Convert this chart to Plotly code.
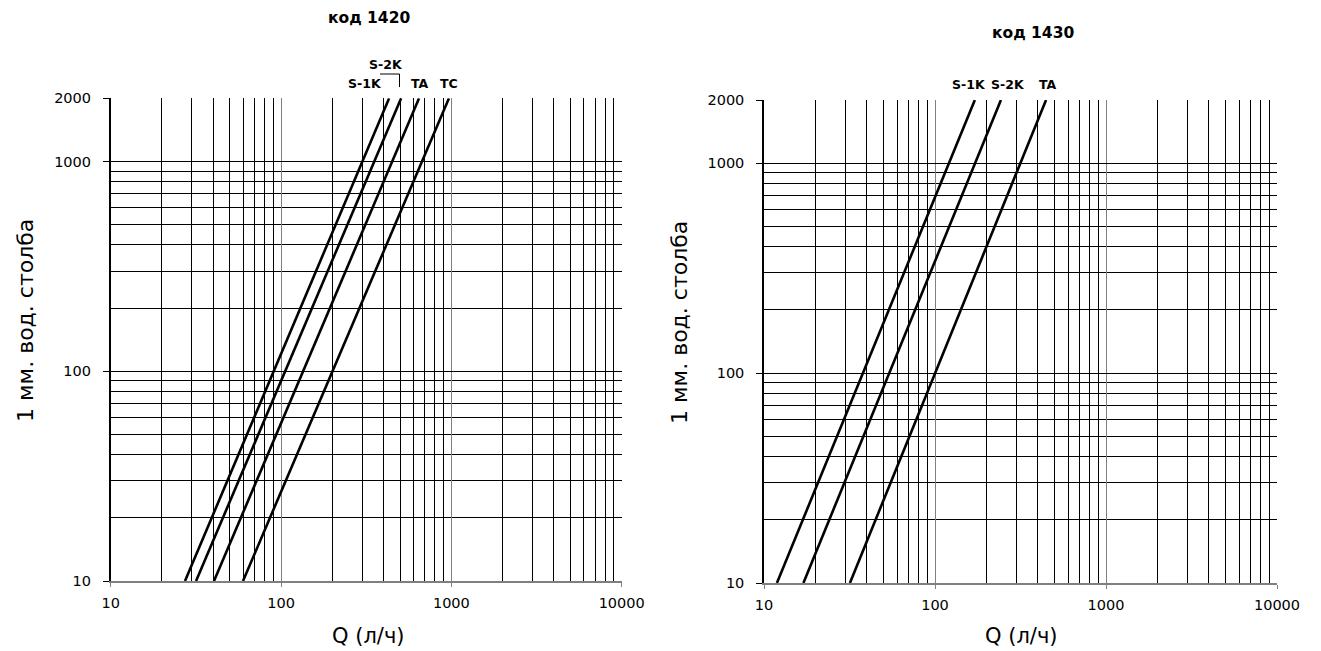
import plotly.graph_objects as go

# page body has an 8px margin; offset the drawing so it lands where the reference is
OFF = 8
W, H = 1321 - 2 * OFF, 651 - OFF

# ---- data ----
dp_points = [10, 2000]                      # pressure drop (mm w.c.) at line ends
left_title = "код 1420"
left_series = ["S-1K", "S-2K", "TA", "TC"]
left_q_at_10 = [27.3, 31.7, 40.4, 59.8]     # Q (l/h) at 10 mm
left_q_at_2000 = [431, 507, 646, 968]       # Q (l/h) at 2000 mm

right_title = "код 1430"
right_series = ["S-1K", "S-2K", "TA"]
right_q_at_10 = [11.9, 17.0, 31.8]
right_q_at_2000 = [171, 243, 446]

x_ticks = [10, 100, 1000, 10000]
x_ticklabels = ["10", "100", "1000", "10000"]
y_ticks = [10, 100, 1000, 2000]
y_ticklabels = ["10", "100", "1000", "2000"]
x_minor = [m * d for d in (10, 100, 1000) for m in range(2, 10)]
y_minor = [m * d for d in (10, 100) for m in range(2, 10)]

x_title = "Q (л/ч)"
y_title = "1 мм. вод. столба"

FONT = "DejaVu Sans, Verdana, sans-serif"

def px2x(px):
    return (px - OFF) / W

def px2y(py):
    return 1 - (py - OFF) / H

fig = go.Figure()

for names, q0, q1, xa, ya in [
    (left_series, left_q_at_10, left_q_at_2000, "x", "y"),
    (right_series, right_q_at_10, right_q_at_2000, "x2", "y2"),
]:
    for n, a, b in zip(names, q0, q1):
        fig.add_trace(go.Scatter(
            x=[a, b], y=dp_points, mode="lines", name=n,
            line=dict(color="black", width=2.6),
            xaxis=xa, yaxis=ya, showlegend=False, hoverinfo="x+y+name",
        ))

def xaxis_cfg(domain, anchor):
    return dict(
        type="log", domain=domain, range=[1, 4], anchor=anchor,
        automargin=False,
        tickvals=x_ticks, ticktext=x_ticklabels,
        ticks="outside", ticklen=4, tickcolor="#808080",
        ticklabelstandoff=4,
        showgrid=True, gridcolor="#808080", gridwidth=1,
        minor=dict(tickvals=x_minor, showgrid=True, gridcolor="black",
                   gridwidth=1, ticks=""),
        showline=True, linecolor="#808080", linewidth=1.5,
        tickfont=dict(family=FONT, size=14.5, color="black"),
        fixedrange=True,
    )

def yaxis_cfg(domain, anchor):
    return dict(
        type="log", domain=domain, range=[1, 3.30103], anchor=anchor,
        automargin=False,
        tickvals=y_ticks, ticktext=y_ticklabels,
        ticks="outside", ticklen=6, tickcolor="black",
        ticklabelstandoff=9,
        showgrid=True, gridcolor="black", gridwidth=1,
        minor=dict(tickvals=y_minor, showgrid=True,
                   gridcolor="black", gridwidth=1, ticks=""),
        showline=True, linecolor="black", linewidth=1.5,
        tickfont=dict(family=FONT, size=14.5, color="black"),
        fixedrange=True,
    )

fig.update_layout(
    width=W, height=H,
    margin=dict(l=0, r=0, t=0, b=0, autoexpand=False),
    paper_bgcolor="white", plot_bgcolor="white",
    xaxis=xaxis_cfg([px2x(110.7), px2x(621.7)], "y"),
    yaxis=yaxis_cfg([px2y(581), px2y(98.3)], "x"),
    xaxis2=xaxis_cfg([px2x(764), px2x(1277)], "y2"),
    yaxis2=yaxis_cfg([px2y(583), px2y(100)], "x2"),
    showlegend=False,
)

ann = []
def add_text(text, px, py, size, bold=False, angle=0):
    ann.append(dict(
        text=f"<b>{text}</b>" if bold else text,
        x=px2x(px), y=px2y(py), xref="paper", yref="paper",
        xanchor="center", yanchor="middle", showarrow=False,
        textangle=angle,
        font=dict(family=FONT, size=size, color="black"),
    ))

# titles
add_text(left_title, 369, 18, 15.5, bold=True)
add_text(right_title, 1033, 33, 15.5, bold=True)
# axis titles
add_text(x_title, 368, 636, 21)
add_text(x_title, 1021, 636, 21)
add_text(y_title, 25, 321, 22, angle=-90)
add_text(y_title, 679, 323, 22, angle=-90)
# series labels (left)
left_label_pos = [(365, 83), (386, 64), (420, 83), (449, 83)]
for n, (lx, ly) in zip(left_series, left_label_pos):
    add_text(n, lx, ly, 12.5, bold=True)
# series labels (right)
right_label_pos = [(969, 85), (1008, 85), (1048, 85)]
for n, (lx, ly) in zip(right_series, right_label_pos):
    add_text(n, lx, ly, 12.5, bold=True)

fig.update_layout(annotations=ann)

# bracket linking S-2K label to its line
fig.add_shape(type="path", xref="paper", yref="paper",
              path=f"M {px2x(380)} {px2y(74)} L {px2x(399.5)} {px2y(74)} L {px2x(399.5)} {px2y(87)}",
              line=dict(color="black", width=1))

fig.write_html("out.html")
